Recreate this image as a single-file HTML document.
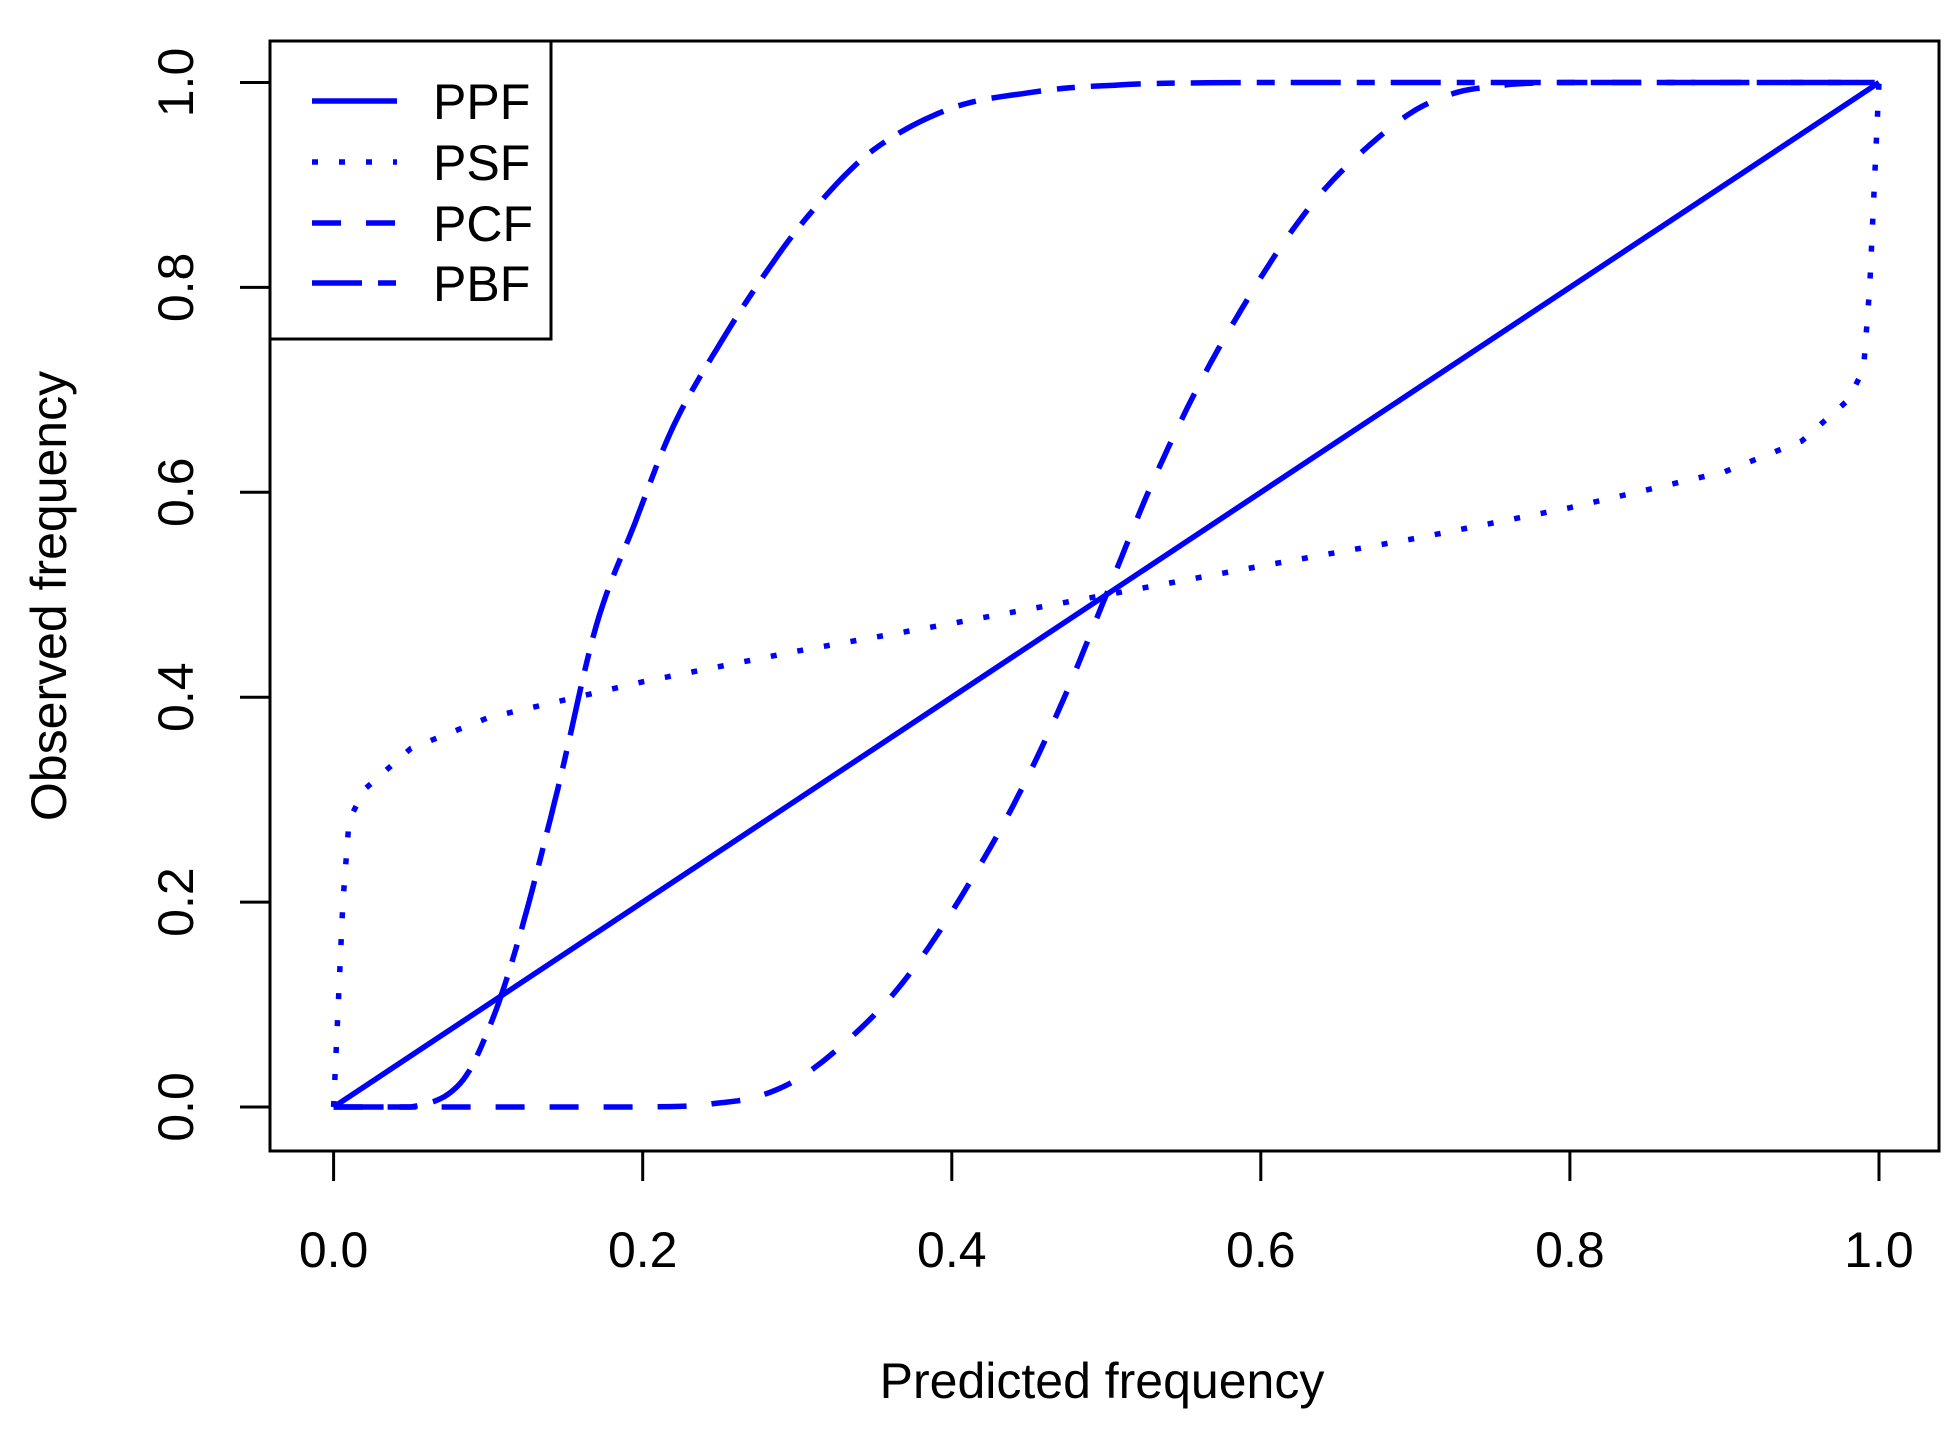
<!DOCTYPE html>
<html><head><meta charset="utf-8"><style>
html,body{margin:0;padding:0;background:#fff;}
svg{display:block;}
text{font-family:"Liberation Sans",Arial,sans-serif;fill:#000;}
</style></head><body>
<svg id="s" width="1959" height="1435" viewBox="0 0 1959 1435" xmlns="http://www.w3.org/2000/svg">
<rect x="0" y="0" width="1959" height="1435" fill="#fff"/>
<g id="curves" fill="none" stroke="#0000ff" stroke-width="5.5" stroke-linejoin="round"></g>
<rect x="270" y="41" width="1669" height="1110" fill="none" stroke="#000" stroke-width="3"/>
<g stroke="#000" stroke-width="3">
<line x1="333.6" y1="1151" x2="333.6" y2="1181"/>
<line x1="642.7" y1="1151" x2="642.7" y2="1181"/>
<line x1="951.8" y1="1151" x2="951.8" y2="1181"/>
<line x1="1260.8" y1="1151" x2="1260.8" y2="1181"/>
<line x1="1569.9" y1="1151" x2="1569.9" y2="1181"/>
<line x1="1879" y1="1151" x2="1879" y2="1181"/>
<line x1="270" y1="1107" x2="240" y2="1107"/>
<line x1="270" y1="902.1" x2="240" y2="902.1"/>
<line x1="270" y1="697.2" x2="240" y2="697.2"/>
<line x1="270" y1="492.3" x2="240" y2="492.3"/>
<line x1="270" y1="287.4" x2="240" y2="287.4"/>
<line x1="270" y1="82.5" x2="240" y2="82.5"/>
</g>
<g font-size="50" text-anchor="middle">
<text x="333.6" y="1267">0.0</text>
<text x="642.7" y="1267">0.2</text>
<text x="951.8" y="1267">0.4</text>
<text x="1260.8" y="1267">0.6</text>
<text x="1569.9" y="1267">0.8</text>
<text x="1879" y="1267">1.0</text>
<text transform="translate(193,1107) rotate(-90)">0.0</text>
<text transform="translate(193,902.1) rotate(-90)">0.2</text>
<text transform="translate(193,697.2) rotate(-90)">0.4</text>
<text transform="translate(193,492.3) rotate(-90)">0.6</text>
<text transform="translate(193,287.4) rotate(-90)">0.8</text>
<text transform="translate(193,82.5) rotate(-90)">1.0</text>
<text x="1102" y="1398">Predicted frequency</text>
<text transform="translate(66,596) rotate(-90)">Observed frequency</text>
</g>
<rect x="270" y="41" width="281" height="298" fill="#fff" stroke="#000" stroke-width="3"/>
<g stroke="#0000ff" stroke-width="5.5" fill="none">
<line x1="312" y1="101" x2="397" y2="101"/>
<line x1="312" y1="162" x2="397" y2="162" stroke-dasharray="6 21"/>
<line x1="312" y1="223" x2="397" y2="223" stroke-dasharray="29 25"/>
<line x1="312" y1="283" x2="397" y2="283" stroke-dasharray="50 16 18 16"/>
</g>
<g font-size="50">
<text x="433" y="119">PPF</text>
<text x="433" y="180">PSF</text>
<text x="433" y="241">PCF</text>
<text x="433" y="301">PBF</text>
</g>
</svg>
<script>
(function(){
var X=function(v){return 333.6+v*1545.4;},Y=function(v){return 1107-v*1024.5;};
function sym(h){var p=h.slice();for(var i=h.length-2;i>=0;i--){p.push([1-h[i][0],1-h[i][1]]);}return p;}
function cr(pts){var out=[];for(var i=0;i<pts.length-1;i++){var p0=pts[i?i-1:0],p1=pts[i],p2=pts[i+1],p3=pts[i+2<pts.length?i+2:i+1];
for(var k=0;k<12;k++){var t=k/12,t2=t*t,t3=t2*t;var f=function(a,b,c,d){return 0.5*((2*b)+(-a+c)*t+(2*a-5*b+4*c-d)*t2+(-a+3*b-3*c+d)*t3);};
out.push([f(p0[0],p1[0],p2[0],p3[0]),Math.max(0,Math.min(1,f(p0[1],p1[1],p2[1],p3[1])))]);}}out.push(pts[pts.length-1]);return out;}
function path(pts,dash){var d=pts.map(function(p,i){return (i?'L':'M')+X(p[0]).toFixed(1)+' '+Y(p[1]).toFixed(1);}).join(' ');
var e=document.createElementNS('http://www.w3.org/2000/svg','path');e.setAttribute('d',d);if(dash)e.setAttribute('stroke-dasharray',dash);document.getElementById('curves').appendChild(e);}
path([[0,0],[1,1]]);
var psf=sym([[0,0],[0.006,0.2],[0.01,0.28],[0.02,0.31],[0.05,0.35],[0.1,0.38],[0.2,0.415],[0.3,0.445],[0.4,0.472],[0.5,0.5]]);
path(psf,"6 21");
var pcf=sym([[0,0],[0.2,0],[0.25,0.004],[0.28,0.013],[0.31,0.037],[0.35,0.09],[0.38,0.145],[0.41,0.215],[0.44,0.295],[0.47,0.39],[0.5,0.5]]);
path(cr(pcf),"29 25");
var pbf=[[0,0],[0.05,0],[0.08,0.02],[0.1,0.075],[0.12,0.165],[0.145,0.31],[0.17,0.47],[0.195,0.57],[0.22,0.665],[0.25,0.745],[0.28,0.815],[0.31,0.875],[0.35,0.935],[0.4,0.975],[0.45,0.99],[0.5,0.997],[0.6,1],[1,1]];
path(cr(pbf),"50 16 18 16");
})();
</script>
</body></html>
